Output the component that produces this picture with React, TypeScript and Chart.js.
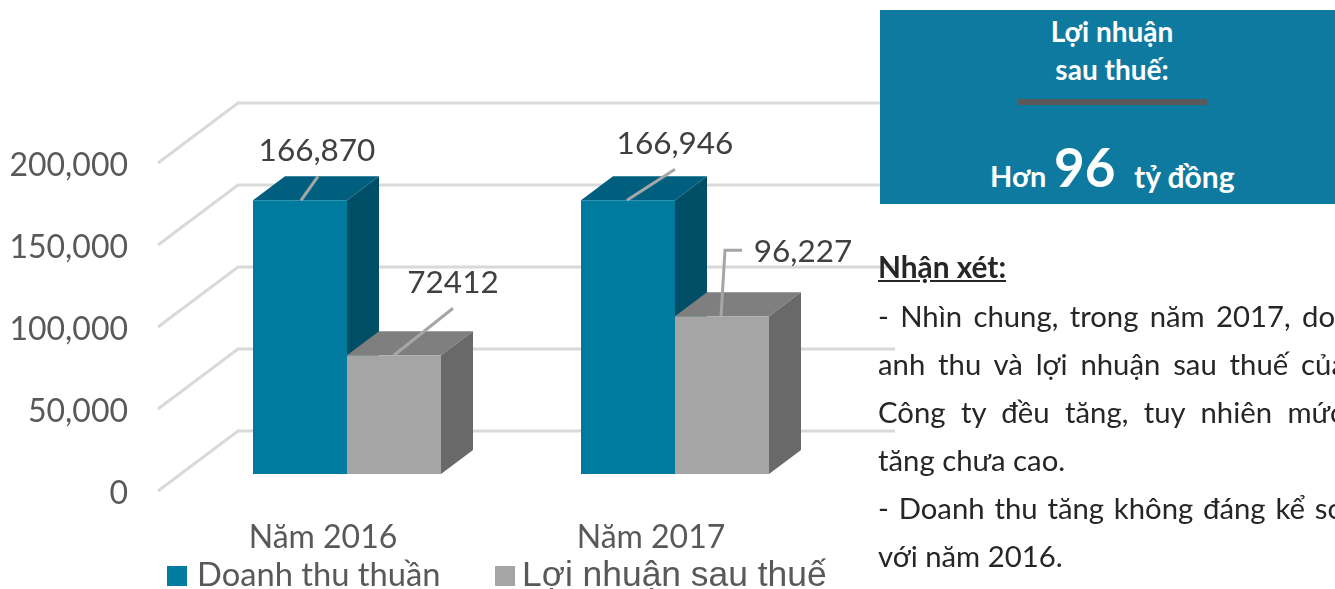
import React, { useEffect, useRef } from "react";
import { Chart, registerables } from "chart.js";

Chart.register(...registerables);

const categories = ["Năm 2016", "Năm 2017"];
const seriesNames = ["Doanh thu thuần", "Lợi nhuận sau thuế"];
const revenue = [166870, 166946];
const profit = [72412, 96227];
const revenueLabels = ["166,870", "166,946"];
const profitLabels = ["72412", "96,227"];
const yMin = 0;
const yMax = 200000;
const yStep = 50000;

const DEPTH_X = 32;
const DEPTH_Y = -24;
const WALL_DX = 80;
const WALL_FRONT_DY = 17;
const WALL_BACK_DY = -43;
const WALL_RIGHT = 895;

const frontColors = ["#007ba0", "#a5a5a5"];
const topColors = ["#005f7f", "#7f7f7f"];
const sideColors = ["#004f66", "#696969"];

// leader line points and label centre, relative to the top-centre of each bar
const leaders = [
  [
    { pts: [[1, 0], [18, -24]], label: [17, -49] },
    { pts: [[-1, 0], [47, -31]], label: [47, -56] },
  ],
  [
    { pts: [[0, 0], [59, -47]], label: [59, -72] },
    { pts: [[-1, 0], [3, -66], [20, -66]], label: [81, -64] },
  ],
];

const poly = (ctx: CanvasRenderingContext2D, pts: number[][], fill: string) => {
  ctx.beginPath();
  pts.forEach((p, i) => (i ? ctx.lineTo(p[0], p[1]) : ctx.moveTo(p[0], p[1])));
  ctx.closePath();
  ctx.fillStyle = fill;
  ctx.fill();
};

const wallPlugin = {
  id: "wall",
  beforeDatasetsDraw(chart: any) {
    const { ctx, scales } = chart;
    const y = scales.y;
    const left = chart.chartArea.left - 25;
    ctx.save();
    ctx.strokeStyle = "#d9d9d9";
    ctx.lineWidth = 3;
    y.ticks.forEach((t: any) => {
      const py = y.getPixelForValue(t.value);
      ctx.beginPath();
      ctx.moveTo(left, py + WALL_FRONT_DY);
      ctx.lineTo(left + WALL_DX, py + WALL_BACK_DY);
      ctx.lineTo(WALL_RIGHT, py + WALL_BACK_DY);
      ctx.stroke();
    });
    chart.data.datasets.forEach((_: any, di: number) => {
      chart.getDatasetMeta(di).data.forEach((bar: any) => {
        const { x, y: top, base, width } = bar.getProps(["x", "y", "base", "width"], true);
        const l = x - width / 2;
        const r = x + width / 2;
        poly(ctx, [[l, top], [r, top], [r + DEPTH_X, top + DEPTH_Y], [l + DEPTH_X, top + DEPTH_Y]], topColors[di]);
        poly(ctx, [[r, top], [r + DEPTH_X, top + DEPTH_Y], [r + DEPTH_X, base + DEPTH_Y], [r, base]], sideColors[di]);
      });
    });
    ctx.restore();
  },
};

const labelPlugin = {
  id: "callouts",
  afterDatasetsDraw(chart: any) {
    const { ctx } = chart;
    const texts = [revenueLabels, profitLabels];
    ctx.save();
    chart.data.datasets.forEach((_: any, di: number) => {
      chart.getDatasetMeta(di).data.forEach((bar: any, i: number) => {
        const spec = leaders[di][i];
        ctx.beginPath();
        spec.pts.forEach((p, k) =>
          k ? ctx.lineTo(bar.x + p[0], bar.y + p[1]) : ctx.moveTo(bar.x + p[0], bar.y + p[1])
        );
        ctx.strokeStyle = "#a6a6a6";
        ctx.lineWidth = 3;
        ctx.stroke();
        ctx.fillStyle = "#404040";
        ctx.font = "31.5px Lato";
        ctx.textAlign = "center";
        ctx.textBaseline = "middle";
        ctx.fillText(texts[di][i], bar.x + spec.label[0], bar.y + spec.label[1]);
      });
    });
    // legend
    const entries = [
      { sq: 167, tx: 197, font: "32.7px Lato" },
      { sq: 495, tx: 522, font: "35.4px 'Liberation Sans'" },
    ];
    entries.forEach((e, i) => {
      ctx.fillStyle = frontColors[i];
      ctx.fillRect(e.sq, 566, 20, 20);
      ctx.fillStyle = "#595959";
      ctx.font = e.font;
      ctx.textAlign = "left";
      ctx.textBaseline = "alphabetic";
      ctx.fillText(chart.data.datasets[i].label, e.tx, 586);
    });
    ctx.restore();
  },
};

const abs = (style: React.CSSProperties): React.CSSProperties => ({
  position: "absolute",
  whiteSpace: "nowrap",
  fontFamily: "Lato, sans-serif",
  ...style,
});

const noteLines = [
  { text: "- Nhìn chung, trong năm 2017, do", width: 457, justify: true },
  { text: "anh thu và lợi nhuận sau thuế của", width: 468, justify: true },
  { text: "Công ty đều tăng, tuy nhiên mức", width: 466, justify: true },
  { text: "tăng chưa cao.", width: 0, justify: false },
  { text: "- Doanh thu tăng không đáng kể so", width: 466, justify: true },
  { text: "với năm 2016.", width: 0, justify: false },
];

export default function App() {
  const ref = useRef<HTMLCanvasElement>(null);
  useEffect(() => {
    const chart = new Chart(ref.current!, {
      type: "bar",
      data: {
        labels: categories,
        datasets: [
          { label: seriesNames[0], data: revenue, backgroundColor: frontColors[0] },
          { label: seriesNames[1], data: profit, backgroundColor: frontColors[1] },
        ],
      },
      plugins: [wallPlugin, labelPlugin],
      options: {
        responsive: false,
        animation: false,
        layout: { padding: { top: 146, right: 496, left: 0, bottom: 0 } },
        plugins: { legend: { display: false }, tooltip: { enabled: false } },
        datasets: { bar: { categoryPercentage: 188 / 328, barPercentage: 1 } },
        scales: {
          x: {
            offset: true,
            border: { display: false },
            grid: { display: false, drawTicks: false },
            afterFit: (s: any) => { s.height = 115; },
            ticks: {
              labelOffset: -24,
              padding: 44,
              maxRotation: 0,
              color: "#595959",
              font: { family: "Lato", size: 32 },
            },
          },
          y: {
            min: yMin,
            max: yMax,
            border: { display: false },
            grid: { display: false, drawTicks: false },
            afterFit: (s: any) => { s.width = 183; },
            ticks: {
              stepSize: yStep,
              labelOffset: 20,
              padding: 55,
              color: "#595959",
              font: { family: "Lato", size: 32 },
              callback: (v: any) => Number(v).toLocaleString("en-US"),
            },
          },
        },
      },
    } as any);
    return () => chart.destroy();
  }, []);

  return (
    <div style={{ position: "fixed", left: 0, top: 0, width: 1335, height: 589, overflow: "hidden", background: "#fff" }}>
      <canvas ref={ref} width={1335} height={589} style={{ display: "block" }} />
      <div style={abs({ left: 880, top: 10, width: 455, height: 194, background: "#0f7a9f" })} />
      <div style={abs({ left: 880, top: 12, width: 464, textAlign: "center", color: "#fff", fontWeight: 700, fontSize: 28, lineHeight: "38px" })}>
        Lợi nhuận<br />sau thuế:
      </div>
      <div style={abs({ left: 1018, top: 99, width: 189, height: 6, background: "#595959" })} />
      <div style={abs({ left: 990, top: 158, color: "#fff", fontWeight: 700, fontSize: 29, lineHeight: "36px" })}>Hơn</div>
      <div style={abs({ left: 1054, top: 135, color: "#fff", fontWeight: 700, fontSize: 53, lineHeight: "64px" })}>96</div>
      <div style={abs({ left: 1134, top: 158, color: "#fff", fontWeight: 700, fontSize: 30, lineHeight: "36px" })}>tỷ đồng</div>
      <div style={abs({ left: 878, top: 249, color: "#262626", fontWeight: 700, fontSize: 29.8, lineHeight: "36px", textDecoration: "underline" })}>Nhận xét:</div>
      {noteLines.map((l, i) => (
        <div
          key={i}
          style={abs({
            left: 878,
            top: 298 + i * 48,
            color: "#262626",
            fontSize: 29.3,
            lineHeight: "36px",
            ...(l.justify ? { width: l.width, whiteSpace: "normal", textAlign: "justify", textAlignLast: "justify" } : {}),
          })}
        >
          {l.text}
        </div>
      ))}
    </div>
  );
}
